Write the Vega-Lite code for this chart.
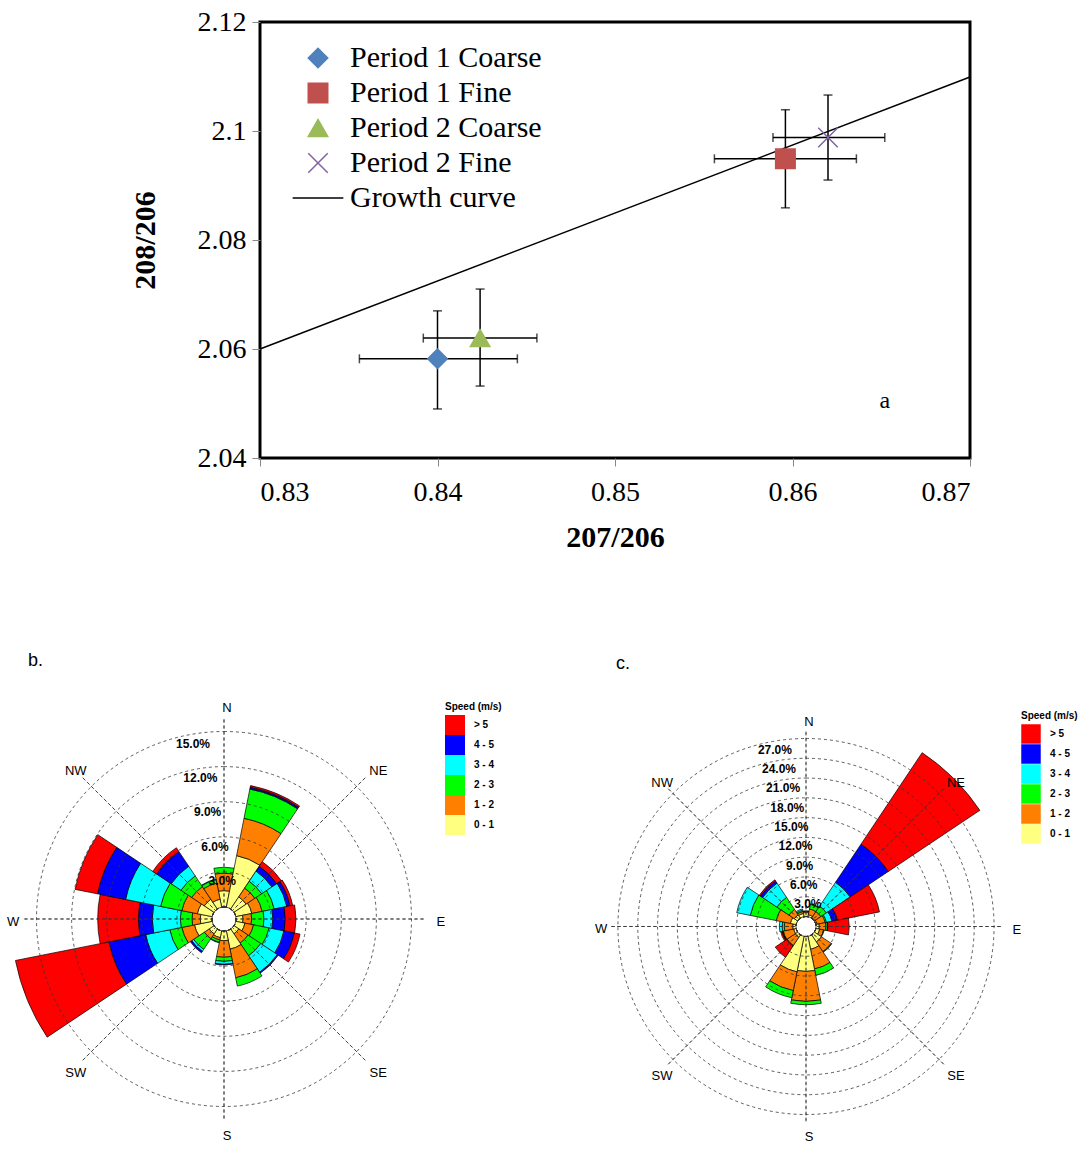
{
  "$schema": "https://vega.github.io/schema/vega-lite/v6.json",
  "padding": {"left": 6, "top": 6, "right": 0, "bottom": 0},
  "background": "white",
  "config": {"font": "Liberation Sans", "view": {"stroke": null}},
  "datasets": {
    "pts": [
      {"series": "Period 1 Coarse", "x": 0.8400, "y": 2.0582, "xlo": 0.8356, "xhi": 0.8445, "ylo": 2.049, "yhi": 2.067},
      {"series": "Period 1 Fine", "x": 0.8596, "y": 2.0949, "xlo": 0.8556, "xhi": 0.8636, "ylo": 2.0859, "yhi": 2.1039},
      {"series": "Period 2 Coarse", "x": 0.8424, "y": 2.0620, "xlo": 0.8392, "xhi": 0.8456, "ylo": 2.0532, "yhi": 2.0710},
      {"series": "Period 2 Fine", "x": 0.8620, "y": 2.0988, "xlo": 0.8589, "xhi": 0.8652, "ylo": 2.0910, "yhi": 2.1066}
    ],
    "curve": [{"x": 0.83, "y": 2.06}, {"x": 0.87, "y": 2.1099}],
    "roseB": [
      {"dir": "N", "speed": "0 - 1", "pct": 1.4}, {"dir": "N", "speed": "1 - 2", "pct": 1.5}, {"dir": "N", "speed": "2 - 3", "pct": 0.5},
      {"dir": "NNE", "speed": "0 - 1", "pct": 4.5}, {"dir": "NNE", "speed": "1 - 2", "pct": 3.25}, {"dir": "NNE", "speed": "2 - 3", "pct": 2.55}, {"dir": "NNE", "speed": "3 - 4", "pct": 0.05}, {"dir": "NNE", "speed": "4 - 5", "pct": 0.12}, {"dir": "NNE", "speed": "> 5", "pct": 0.13},
      {"dir": "NE", "speed": "0 - 1", "pct": 1.25}, {"dir": "NE", "speed": "1 - 2", "pct": 0.9}, {"dir": "NE", "speed": "2 - 3", "pct": 0.7}, {"dir": "NE", "speed": "3 - 4", "pct": 1.05}, {"dir": "NE", "speed": "4 - 5", "pct": 0.5}, {"dir": "NE", "speed": "> 5", "pct": 0.47},
      {"dir": "ENE", "speed": "0 - 1", "pct": 1.4}, {"dir": "ENE", "speed": "1 - 2", "pct": 0.9}, {"dir": "ENE", "speed": "2 - 3", "pct": 1.05}, {"dir": "ENE", "speed": "3 - 4", "pct": 1.1}, {"dir": "ENE", "speed": "4 - 5", "pct": 0.28}, {"dir": "ENE", "speed": "> 5", "pct": 0.23},
      {"dir": "E", "speed": "0 - 1", "pct": 0.6}, {"dir": "E", "speed": "1 - 2", "pct": 0.74}, {"dir": "E", "speed": "2 - 3", "pct": 1.05}, {"dir": "E", "speed": "3 - 4", "pct": 0.76}, {"dir": "E", "speed": "4 - 5", "pct": 1.07}, {"dir": "E", "speed": "> 5", "pct": 0.91},
      {"dir": "ESE", "speed": "0 - 1", "pct": 0.8}, {"dir": "ESE", "speed": "1 - 2", "pct": 0.75}, {"dir": "ESE", "speed": "2 - 3", "pct": 1.35}, {"dir": "ESE", "speed": "3 - 4", "pct": 1.3}, {"dir": "ESE", "speed": "4 - 5", "pct": 0.9}, {"dir": "ESE", "speed": "> 5", "pct": 0.5},
      {"dir": "SE", "speed": "0 - 1", "pct": 0.5}, {"dir": "SE", "speed": "1 - 2", "pct": 0.95}, {"dir": "SE", "speed": "2 - 3", "pct": 1.3}, {"dir": "SE", "speed": "3 - 4", "pct": 1.7}, {"dir": "SE", "speed": "4 - 5", "pct": 0.1},
      {"dir": "SSE", "speed": "0 - 1", "pct": 1.6}, {"dir": "SSE", "speed": "1 - 2", "pct": 2.5}, {"dir": "SSE", "speed": "2 - 3", "pct": 0.72},
      {"dir": "S", "speed": "0 - 1", "pct": 0.83}, {"dir": "S", "speed": "1 - 2", "pct": 1.42}, {"dir": "S", "speed": "2 - 3", "pct": 0.35}, {"dir": "S", "speed": "3 - 4", "pct": 0.25}, {"dir": "S", "speed": "4 - 5", "pct": 0.05},
      {"dir": "SSW", "speed": "0 - 1", "pct": 0.6}, {"dir": "SSW", "speed": "1 - 2", "pct": 0.2}, {"dir": "SSW", "speed": "2 - 3", "pct": 0.2}, {"dir": "SSW", "speed": "3 - 4", "pct": 0.05},
      {"dir": "SW", "speed": "0 - 1", "pct": 0.5}, {"dir": "SW", "speed": "1 - 2", "pct": 0.5}, {"dir": "SW", "speed": "2 - 3", "pct": 1.1}, {"dir": "SW", "speed": "3 - 4", "pct": 0.2}, {"dir": "SW", "speed": "4 - 5", "pct": 0.15},
      {"dir": "WSW", "speed": "0 - 1", "pct": 1.55}, {"dir": "WSW", "speed": "1 - 2", "pct": 1.1}, {"dir": "WSW", "speed": "2 - 3", "pct": 1.05}, {"dir": "WSW", "speed": "3 - 4", "pct": 2.1}, {"dir": "WSW", "speed": "4 - 5", "pct": 3.2}, {"dir": "WSW", "speed": "> 5", "pct": 8.15},
      {"dir": "W", "speed": "0 - 1", "pct": 1.0}, {"dir": "W", "speed": "1 - 2", "pct": 0.71}, {"dir": "W", "speed": "2 - 3", "pct": 1.0}, {"dir": "W", "speed": "3 - 4", "pct": 2.4}, {"dir": "W", "speed": "4 - 5", "pct": 1.18}, {"dir": "W", "speed": "> 5", "pct": 3.48},
      {"dir": "WNW", "speed": "0 - 1", "pct": 1.3}, {"dir": "WNW", "speed": "1 - 2", "pct": 1.35}, {"dir": "WNW", "speed": "2 - 3", "pct": 1.85}, {"dir": "WNW", "speed": "3 - 4", "pct": 3.05}, {"dir": "WNW", "speed": "4 - 5", "pct": 2.45}, {"dir": "WNW", "speed": "> 5", "pct": 1.95},
      {"dir": "NW", "speed": "0 - 1", "pct": 1.0}, {"dir": "NW", "speed": "1 - 2", "pct": 1.3}, {"dir": "NW", "speed": "2 - 3", "pct": 1.1}, {"dir": "NW", "speed": "3 - 4", "pct": 1.0}, {"dir": "NW", "speed": "4 - 5", "pct": 1.5}, {"dir": "NW", "speed": "> 5", "pct": 0.4},
      {"dir": "NNW", "speed": "0 - 1", "pct": 0.7}, {"dir": "NNW", "speed": "1 - 2", "pct": 1.4}, {"dir": "NNW", "speed": "2 - 3", "pct": 0.3}, {"dir": "NNW", "speed": "3 - 4", "pct": 0.05}
    ],
    "roseC": [
      {"dir": "N", "speed": "0 - 1", "pct": 0.6}, {"dir": "N", "speed": "1 - 2", "pct": 0.2}, {"dir": "N", "speed": "2 - 3", "pct": 0.05},
      {"dir": "NNE", "speed": "0 - 1", "pct": 0.3}, {"dir": "NNE", "speed": "1 - 2", "pct": 0.9}, {"dir": "NNE", "speed": "2 - 3", "pct": 0.7}, {"dir": "NNE", "speed": "3 - 4", "pct": 0.1},
      {"dir": "NE", "speed": "0 - 1", "pct": 0.1}, {"dir": "NE", "speed": "1 - 2", "pct": 1.1}, {"dir": "NE", "speed": "2 - 3", "pct": 1.0}, {"dir": "NE", "speed": "3 - 4", "pct": 4.35}, {"dir": "NE", "speed": "4 - 5", "pct": 6.95}, {"dir": "NE", "speed": "> 5", "pct": 16.7},
      {"dir": "ENE", "speed": "0 - 1", "pct": 0.2}, {"dir": "ENE", "speed": "1 - 2", "pct": 1.25}, {"dir": "ENE", "speed": "2 - 3", "pct": 0.2}, {"dir": "ENE", "speed": "3 - 4", "pct": 0.85}, {"dir": "ENE", "speed": "4 - 5", "pct": 0.85}, {"dir": "ENE", "speed": "> 5", "pct": 6.5},
      {"dir": "E", "speed": "0 - 1", "pct": 0.5}, {"dir": "E", "speed": "1 - 2", "pct": 1.0}, {"dir": "E", "speed": "2 - 3", "pct": 0.25}, {"dir": "E", "speed": "3 - 4", "pct": 0.05}, {"dir": "E", "speed": "> 5", "pct": 3.25},
      {"dir": "ESE", "speed": "0 - 1", "pct": 0.6}, {"dir": "ESE", "speed": "1 - 2", "pct": 0.6}, {"dir": "ESE", "speed": "2 - 3", "pct": 0.1},
      {"dir": "SE", "speed": "0 - 1", "pct": 1.3}, {"dir": "SE", "speed": "1 - 2", "pct": 1.8}, {"dir": "SE", "speed": "2 - 3", "pct": 0.1},
      {"dir": "SSE", "speed": "0 - 1", "pct": 2.0}, {"dir": "SSE", "speed": "1 - 2", "pct": 3.05}, {"dir": "SSE", "speed": "2 - 3", "pct": 1.0},
      {"dir": "S", "speed": "0 - 1", "pct": 5.3}, {"dir": "S", "speed": "1 - 2", "pct": 4.55}, {"dir": "S", "speed": "2 - 3", "pct": 0.5},
      {"dir": "SSW", "speed": "0 - 1", "pct": 5.5}, {"dir": "SSW", "speed": "1 - 2", "pct": 2.9}, {"dir": "SSW", "speed": "2 - 3", "pct": 1.1},
      {"dir": "SW", "speed": "0 - 1", "pct": 0.45}, {"dir": "SW", "speed": "1 - 2", "pct": 1.5}, {"dir": "SW", "speed": "2 - 3", "pct": 0.1}, {"dir": "SW", "speed": "> 5", "pct": 2.05},
      {"dir": "WSW", "speed": "0 - 1", "pct": 0.4}, {"dir": "WSW", "speed": "1 - 2", "pct": 1.6}, {"dir": "WSW", "speed": "2 - 3", "pct": 0.1}, {"dir": "WSW", "speed": "3 - 4", "pct": 0.05}, {"dir": "WSW", "speed": "4 - 5", "pct": 0.05}, {"dir": "WSW", "speed": "> 5", "pct": 0.2},
      {"dir": "W", "speed": "0 - 1", "pct": 0.5}, {"dir": "W", "speed": "1 - 2", "pct": 1.27}, {"dir": "W", "speed": "2 - 3", "pct": 0.33}, {"dir": "W", "speed": "3 - 4", "pct": 0.43},
      {"dir": "WNW", "speed": "0 - 1", "pct": 0.9}, {"dir": "WNW", "speed": "1 - 2", "pct": 2.2}, {"dir": "WNW", "speed": "2 - 3", "pct": 4.0}, {"dir": "WNW", "speed": "3 - 4", "pct": 2.1},
      {"dir": "NW", "speed": "0 - 1", "pct": 0.6}, {"dir": "NW", "speed": "1 - 2", "pct": 1.0}, {"dir": "NW", "speed": "2 - 3", "pct": 2.2}, {"dir": "NW", "speed": "3 - 4", "pct": 2.6}, {"dir": "NW", "speed": "4 - 5", "pct": 0.4}, {"dir": "NW", "speed": "> 5", "pct": 0.2},
      {"dir": "NNW", "speed": "0 - 1", "pct": 0.5}, {"dir": "NNW", "speed": "1 - 2", "pct": 0.3}, {"dir": "NNW", "speed": "2 - 3", "pct": 0.2}, {"dir": "NNW", "speed": "3 - 4", "pct": 0.2}
    ],
    "compass": [
      {"lab": "N", "deg": 0}, {"lab": "NE", "deg": 45}, {"lab": "E", "deg": 90}, {"lab": "SE", "deg": 135},
      {"lab": "S", "deg": 180}, {"lab": "SW", "deg": 225}, {"lab": "W", "deg": 270}, {"lab": "NW", "deg": 315}
    ],
    "ringsB": [
      {"ring": 0, "lab": ""}, {"ring": 3, "lab": "3.0%"}, {"ring": 6, "lab": "6.0%"}, {"ring": 9, "lab": "9.0%"}, {"ring": 12, "lab": "12.0%"}, {"ring": 15, "lab": "15.0%"}
    ],
    "ringsC": [
      {"ring": 0, "lab": ""}, {"ring": 3, "lab": "3.0%"}, {"ring": 6, "lab": "6.0%"}, {"ring": 9, "lab": "9.0%"}, {"ring": 12, "lab": "12.0%"}, {"ring": 15, "lab": "15.0%"},
      {"ring": 18, "lab": "18.0%"}, {"ring": 21, "lab": "21.0%"}, {"ring": 24, "lab": "24.0%"}, {"ring": 27, "lab": "27.0%"}
    ]
  },
  "resolve": {
    "scale": {"color": "independent", "theta": "independent", "radius": "independent", "fill": "independent", "stroke": "independent", "shape": "independent"},
    "legend": {"color": "independent", "fill": "independent", "stroke": "independent", "shape": "independent"}
  },
  "spacing": 98,
  "vconcat": [
    {
      "spacing": 20,
      "resolve": {
        "scale": {"fill": "independent", "stroke": "independent", "shape": "independent"},
        "legend": {"fill": "independent", "stroke": "independent", "shape": "independent"}
      },
      "hconcat": [
        {
          "width": 102, "height": 10,
          "view": {"stroke": null},
          "data": {"values": [{"v": 0}]},
          "mark": {"type": "point", "opacity": 0},
          "encoding": {}
        },
        {
          "width": 710, "height": 436,
          "view": {"stroke": "#000", "strokeWidth": 3},
          "layer": [
            {
              "data": {"name": "curve"},
              "mark": {"type": "line", "color": "black", "strokeWidth": 1.5},
              "encoding": {
                "x": {"field": "x", "type": "quantitative", "title": "207/206", "scale": {"domain": [0.83, 0.87], "zero": false, "nice": false},
                  "axis": {"values": [0.83, 0.84, 0.85, 0.86, 0.87], "format": "~g", "labelFont": "Liberation Serif", "labelFontSize": 28, "labelColor": "black", "titleFont": "Liberation Serif", "titleFontSize": 30, "titleFontWeight": "bold", "titleColor": "black", "titlePadding": 16, "labelPadding": 12, "tickSize": 8, "tickColor": "#888", "domain": false, "grid": false}},
                "y": {"field": "y", "type": "quantitative", "title": "208/206", "scale": {"domain": [2.04, 2.12], "zero": false, "nice": false},
                  "axis": {"values": [2.04, 2.06, 2.08, 2.1, 2.12], "format": "~g", "labelFont": "Liberation Serif", "labelFontSize": 28, "labelColor": "black", "titleFont": "Liberation Serif", "titleFontSize": 30, "titleFontWeight": "bold", "titleColor": "black", "titlePadding": 37, "labelPadding": 6, "tickSize": 8, "tickColor": "#888", "domain": false, "grid": false}}
              }
            },
            {
              "data": {"name": "pts"},
              "mark": {"type": "errorbar", "ticks": {"size": 9, "color": "black"}, "rule": {"color": "black", "strokeWidth": 1.5}, "thickness": 1.5},
              "encoding": {
                "x": {"field": "xlo", "type": "quantitative", "title": "207/206"},
                "x2": {"field": "xhi"},
                "y": {"field": "y", "type": "quantitative", "title": "208/206"}
              }
            },
            {
              "data": {"name": "pts"},
              "mark": {"type": "errorbar", "ticks": {"size": 9, "color": "black"}, "rule": {"color": "black", "strokeWidth": 1.5}, "thickness": 1.5},
              "encoding": {
                "y": {"field": "ylo", "type": "quantitative", "title": "208/206"},
                "y2": {"field": "yhi"},
                "x": {"field": "x", "type": "quantitative", "title": "207/206"}
              }
            },
            {
              "data": {"name": "pts"},
              "mark": {"type": "point", "filled": true, "size": 380, "strokeWidth": 1.5, "opacity": 1},
              "encoding": {
                "x": {"field": "x", "type": "quantitative", "title": "207/206"},
                "y": {"field": "y", "type": "quantitative", "title": "208/206"},
                "fill": {"field": "series", "type": "nominal",
                  "scale": {"domain": ["Period 1 Coarse", "Period 1 Fine", "Period 2 Coarse", "Period 2 Fine", "Growth curve"], "range": ["#4F81BD", "#C0504D", "#9BBB59", "#8064A2", "#000000"]},
                  "legend": {"title": null, "orient": "none", "legendX": 43, "legendY": 21, "labelFont": "Liberation Serif", "labelFontSize": 30, "labelColor": "black", "labelOffset": 17, "labelLimit": 0, "symbolSize": 380, "symbolStrokeWidth": 1.5, "rowPadding": 5}},
                "stroke": {"field": "series", "type": "nominal",
                  "scale": {"domain": ["Period 1 Coarse", "Period 1 Fine", "Period 2 Coarse", "Period 2 Fine", "Growth curve"], "range": ["#4F81BD", "#C0504D", "#9BBB59", "#8064A2", "#000000"]},
                  "legend": {"title": null, "orient": "none", "legendX": 43, "legendY": 21, "labelFont": "Liberation Serif", "labelFontSize": 30, "labelColor": "black", "labelOffset": 17, "labelLimit": 0, "symbolSize": 380, "symbolStrokeWidth": 1.5, "rowPadding": 5}},
                "shape": {"field": "series", "type": "nominal",
                  "scale": {"domain": ["Period 1 Coarse", "Period 1 Fine", "Period 2 Coarse", "Period 2 Fine", "Growth curve"], "range": ["diamond", "square", "triangle-up", "M-1,-1L1,1M-1,1L1,-1", "M-2.6,0L2.6,0"]},
                  "legend": {"title": null, "orient": "none", "legendX": 43, "legendY": 21, "labelFont": "Liberation Serif", "labelFontSize": 30, "labelColor": "black", "labelOffset": 17, "labelLimit": 0, "symbolSize": 380, "symbolStrokeWidth": 1.5, "rowPadding": 5}}
              }
            },
            {
              "data": {"values": [{"t": "a"}]},
              "mark": {"type": "text", "font": "Liberation Serif", "fontSize": 24, "color": "black"},
              "encoding": {
                "text": {"field": "t"},
                "x": {"datum": 0.8652, "type": "quantitative"},
                "y": {"datum": 2.0505, "type": "quantitative"}
              }
            }
          ]
        }
      ]
    },
    {
      "spacing": 89,
      "resolve": {
        "scale": {"color": "independent", "theta": "independent", "radius": "independent"},
        "legend": {"color": "independent"}
      },
      "hconcat": [
        {
          "title": {"text": "b.", "anchor": "start", "fontSize": 18, "fontWeight": "normal", "font": "Liberation Sans", "offset": 32, "dx": 22, "color": "black"},
          "width": 436, "height": 434,
          "view": {"stroke": null},
          "resolve": {"scale": {"theta": "independent"}},
          "layer": [
            {
              "data": {"name": "roseB"},
              "mark": {"type": "arc", "stroke": "#000", "strokeWidth": 0.7},
              "encoding": {
                "theta": {"field": "dir", "type": "nominal", "scale": {"type": "band", "domain": ["N", "NNE", "NE", "ENE", "E", "ESE", "SE", "SSE", "S", "SSW", "SW", "WSW", "W", "WNW", "NW", "NNW"], "range": [-0.19635, 6.08684], "paddingInner": 0, "paddingOuter": 0}},
                "radius": {"field": "pct", "type": "quantitative", "stack": "zero", "scale": {"type": "linear", "domain": [0, 15], "range": [12, 187.5], "zero": true, "nice": false}},
                "color": {"field": "speed", "type": "nominal", "title": "Speed (m/s)",
                  "scale": {"domain": ["> 5", "4 - 5", "3 - 4", "2 - 3", "1 - 2", "0 - 1"], "range": ["#FF0000", "#0000FF", "#00FFFF", "#00FF00", "#FF8000", "#FFFF80"]},
                  "legend": {"orient": "right", "offset": 3, "symbolType": "square", "symbolSize": 400, "symbolStrokeWidth": 0, "rowPadding": 0, "labelOffset": 9, "labelFontSize": 10, "labelFontWeight": "bold", "labelColor": "black", "titleFontSize": 10, "titleFontWeight": "bold", "titleColor": "black", "titlePadding": 3}},
                "order": {"field": "speed", "type": "ordinal", "sort": "ascending"}
              }
            },
            {
              "data": {"name": "ringsB"},
              "mark": {"type": "arc", "filled": false, "theta": 0, "theta2": 6.2832, "stroke": "#333", "strokeWidth": 0.8, "strokeDash": [3, 3]},
              "encoding": {
                "radius": {"field": "ring", "type": "quantitative", "stack": null, "scale": {"type": "linear", "domain": [0, 15], "range": [12, 187.5], "zero": true, "nice": false}}
              }
            },
            {
              "data": {"name": "compass"},
              "mark": {"type": "arc", "filled": false, "stroke": "#333", "strokeWidth": 0.8, "strokeDash": [3, 3]},
              "encoding": {
                "theta": {"field": "deg", "type": "quantitative", "stack": null, "scale": {"type": "linear", "domain": [0, 360], "range": [0, 6.28319], "zero": true, "nice": false}},
                "theta2": {"field": "deg"},
                "radius": {"datum": 16.07, "type": "quantitative", "scale": {"type": "linear", "domain": [0, 15], "range": [12, 187.5], "zero": true, "nice": false}},
                "radius2": {"datum": 0}
              }
            },
            {
              "data": {"name": "compass"},
              "mark": {"type": "text", "fontSize": 13, "color": "black", "dx": 3, "dy": 3},
              "encoding": {
                "text": {"field": "lab"},
                "theta": {"field": "deg", "type": "quantitative", "stack": null, "scale": {"type": "linear", "domain": [0, 360], "range": [0, 6.28319], "zero": true, "nice": false}},
                "radius": {"datum": 17.26, "type": "quantitative", "scale": {"type": "linear", "domain": [0, 15], "range": [12, 187.5], "zero": true, "nice": false}}
              }
            },
            {
              "data": {"name": "ringsB"},
              "mark": {"type": "text", "fontSize": 12, "fontWeight": "bold", "color": "black", "baseline": "top", "dx": 8, "dy": 3},
              "encoding": {
                "text": {"field": "lab"},
                "theta": {"datum": 348, "type": "quantitative", "scale": {"type": "linear", "domain": [0, 360], "range": [0, 6.28319], "zero": true, "nice": false}},
                "radius": {"field": "ring", "type": "quantitative", "stack": null, "scale": {"type": "linear", "domain": [0, 15], "range": [12, 187.5], "zero": true, "nice": false}}
              }
            }
          ]
        },
        {
          "title": {"text": "c.", "anchor": "start", "fontSize": 18, "fontWeight": "normal", "font": "Liberation Sans", "offset": 29, "dx": 25, "color": "black"},
          "width": 430, "height": 449,
          "view": {"stroke": null},
          "resolve": {"scale": {"theta": "independent"}},
          "layer": [
            {
              "data": {"name": "roseC"},
              "mark": {"type": "arc", "stroke": "#000", "strokeWidth": 0.7},
              "encoding": {
                "theta": {"field": "dir", "type": "nominal", "scale": {"type": "band", "domain": ["N", "NNE", "NE", "ENE", "E", "ESE", "SE", "SSE", "S", "SSW", "SW", "WSW", "W", "WNW", "NW", "NNW"], "range": [-0.19635, 6.08684], "paddingInner": 0, "paddingOuter": 0}},
                "radius": {"field": "pct", "type": "quantitative", "stack": "zero", "scale": {"type": "linear", "domain": [0, 27], "range": [10, 188], "zero": true, "nice": false}},
                "color": {"field": "speed", "type": "nominal", "title": "Speed (m/s)",
                  "scale": {"domain": ["> 5", "4 - 5", "3 - 4", "2 - 3", "1 - 2", "0 - 1"], "range": ["#FF0000", "#0000FF", "#00FFFF", "#00FF00", "#FF8000", "#FFFF80"]},
                  "legend": {"orient": "right", "offset": -9, "padding": 9, "symbolType": "square", "symbolSize": 380, "symbolStrokeWidth": 0, "rowPadding": 0, "labelOffset": 9, "labelFontSize": 10, "labelFontWeight": "bold", "labelColor": "black", "titleFontSize": 10, "titleFontWeight": "bold", "titleColor": "black", "titlePadding": 3}},
                "order": {"field": "speed", "type": "ordinal", "sort": "ascending"}
              }
            },
            {
              "data": {"name": "ringsC"},
              "mark": {"type": "arc", "filled": false, "theta": 0, "theta2": 6.2832, "stroke": "#333", "strokeWidth": 0.8, "strokeDash": [3, 3]},
              "encoding": {
                "radius": {"field": "ring", "type": "quantitative", "stack": null, "scale": {"type": "linear", "domain": [0, 27], "range": [10, 188], "zero": true, "nice": false}}
              }
            },
            {
              "data": {"name": "compass"},
              "mark": {"type": "arc", "filled": false, "stroke": "#333", "strokeWidth": 0.8, "strokeDash": [3, 3]},
              "encoding": {
                "theta": {"field": "deg", "type": "quantitative", "stack": null, "scale": {"type": "linear", "domain": [0, 360], "range": [0, 6.28319], "zero": true, "nice": false}},
                "theta2": {"field": "deg"},
                "radius": {"datum": 28.06, "type": "quantitative", "scale": {"type": "linear", "domain": [0, 27], "range": [10, 188], "zero": true, "nice": false}},
                "radius2": {"datum": 0}
              }
            },
            {
              "data": {"name": "compass"},
              "mark": {"type": "text", "fontSize": 13, "color": "black", "dx": 3, "dy": 3},
              "encoding": {
                "text": {"field": "lab"},
                "theta": {"field": "deg", "type": "quantitative", "stack": null, "scale": {"type": "linear", "domain": [0, 360], "range": [0, 6.28319], "zero": true, "nice": false}},
                "radius": {"datum": 30.0, "type": "quantitative", "scale": {"type": "linear", "domain": [0, 27], "range": [10, 188], "zero": true, "nice": false}}
              }
            },
            {
              "data": {"name": "ringsC"},
              "mark": {"type": "text", "fontSize": 12, "fontWeight": "bold", "color": "black", "baseline": "top", "dx": 8, "dy": 2},
              "encoding": {
                "text": {"field": "lab"},
                "theta": {"datum": 348, "type": "quantitative", "scale": {"type": "linear", "domain": [0, 360], "range": [0, 6.28319], "zero": true, "nice": false}},
                "radius": {"field": "ring", "type": "quantitative", "stack": null, "scale": {"type": "linear", "domain": [0, 27], "range": [10, 188], "zero": true, "nice": false}}
              }
            }
          ]
        }
      ]
    }
  ]
}
